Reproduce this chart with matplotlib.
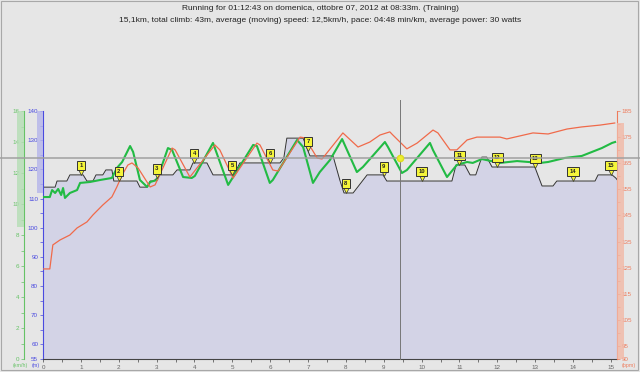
import matplotlib
matplotlib.use("Agg")
import matplotlib.pyplot as plt
import numpy as np
from matplotlib.transforms import blended_transform_factory, offset_copy
from matplotlib.patches import Rectangle
from matplotlib.lines import Line2D

plt.rcParams['font.family'] = ['Liberation Sans', 'DejaVu Sans']

title1 = "Running for 01:12:43 on domenica, ottobre 07, 2012 at 08:33m. (Training)"
title2 = "15,1km, total climb: 43m, average (moving) speed: 12,5km/h, pace: 04:48 min/km, average power: 30 watts"

# altitude (m) vs distance (km)
alt_km = [0.00, 0.32, 0.37, 0.63, 0.71, 1.06, 1.16, 1.32, 1.40, 1.58, 1.66, 1.82, 1.87, 2.48,
          2.56, 2.75, 2.83, 2.93, 3.09, 3.43, 3.54, 3.88, 3.96, 4.33, 4.49, 5.04, 5.20, 6.26,
          6.36, 6.44, 6.87, 7.05, 7.66, 7.84, 7.95, 8.19, 8.56, 8.98, 9.08, 10.80, 10.91, 11.14,
          11.28, 11.43, 11.59, 11.72, 11.86, 12.99, 13.18, 13.47, 13.57, 14.58, 14.66, 15.03,
          15.13, 15.16]
alt_m = [113.9, 113.9, 116.0, 116.0, 118.1, 118.1, 116.0, 116.0, 118.1, 118.1, 119.8, 119.8,
         116.0, 116.0, 113.9, 113.9, 116.0, 116.0, 118.1, 118.1, 119.8, 119.8, 122.2, 122.2,
         118.1, 118.1, 122.2, 122.2, 123.9, 130.7, 130.7, 124.6, 124.6, 116.3, 111.9, 111.9,
         118.1, 118.1, 116.0, 116.0, 121.5, 121.5, 118.1, 118.1, 124.2, 124.2, 120.8, 120.8,
         114.3, 114.3, 116.0, 116.0, 118.1, 118.1, 117.0, 116.5]

# speed (km/h)
spd_km = [0.00, 0.18, 0.24, 0.32, 0.40, 0.48, 0.53, 0.58, 0.71, 0.90, 0.98, 1.24, 1.51, 1.82,
          1.95, 2.09, 2.30, 2.38, 2.56, 2.75, 2.83, 3.01, 3.30, 3.41, 3.70, 3.93, 4.01, 4.49,
          4.89, 5.55, 5.65, 5.99, 6.07, 6.71, 6.87, 7.13, 7.31, 7.58, 7.90, 8.29, 8.45, 9.03,
          9.11, 9.48, 9.61, 10.22, 10.30, 10.67, 10.93, 11.20, 11.35, 11.59, 12.07, 12.52,
          13.13, 13.34, 13.78, 14.23, 14.50, 14.76, 15.03, 15.11]
spd_kmh = [10.45, 10.45, 10.90, 10.71, 10.97, 10.58, 11.03, 10.39, 10.71, 10.90, 11.36, 11.42,
           11.55, 11.68, 12.32, 12.71, 13.74, 13.36, 11.55, 11.10, 11.42, 11.55, 13.61, 13.48,
           11.74, 11.68, 11.81, 13.94, 11.23, 13.81, 13.74, 11.36, 11.55, 14.13, 13.68, 11.36,
           12.06, 12.84, 14.19, 12.06, 12.39, 14.00, 13.68, 12.00, 12.19, 13.94, 13.48, 11.74,
           12.52, 12.71, 12.65, 12.90, 12.65, 12.77, 12.65, 12.71, 12.97, 13.10, 13.36, 13.61,
           13.94, 14.00]

# heart rate (bpm)
hr_km = [0.00, 0.18, 0.26, 0.45, 0.71, 0.90, 1.16, 1.32, 1.58, 1.82, 1.95, 2.09, 2.24, 2.35,
         2.51, 2.83, 2.96, 3.41, 3.49, 3.88, 4.54, 4.67, 5.02, 5.65, 5.73, 6.07, 6.21, 6.79,
         6.92, 7.24, 7.37, 7.92, 8.32, 8.63, 8.90, 9.16, 9.24, 9.61, 9.88, 10.30, 10.43, 10.75,
         10.93, 11.20, 11.46, 12.07, 12.25, 12.94, 13.34, 13.84, 14.23, 14.71, 15.10]
hr_bpm = [124.5, 124.5, 133.7, 135.6, 137.5, 140.2, 142.5, 145.2, 149.0, 152.1, 155.9, 160.5,
          164.3, 165.1, 163.2, 155.9, 156.7, 170.8, 170.1, 159.7, 172.0, 170.1, 159.3, 172.7,
          172.0, 162.4, 162.0, 175.0, 174.7, 167.0, 166.6, 176.6, 171.2, 173.1, 175.8, 177.0,
          175.8, 170.5, 172.7, 177.7, 176.6, 170.1, 170.1, 173.9, 175.0, 175.0, 174.3, 176.6,
          176.2, 178.1, 178.9, 179.6, 180.4]

marker_km = list(range(1, 16))
cursor_km = 9.43
cursor_alt = 123.9

# range bands drawn on the axes
spd_band = (8.5, 16)
alt_band = (112, 140)
hr_band = (90, 180.5)

bg = '#e6e6e6'
c_spd = '#22bb44'
c_spd_ax = '#66c266'
c_alt_ax = '#4a4ae0'
c_hr = '#f06a4a'
c_hr_ax = '#ee7a5a'
c_mark = '#f5f53a'

fig = plt.figure(figsize=(6.4, 3.72), dpi=100, facecolor=bg)
ax = fig.add_axes([43/640, 13/372, 574/640, 248/372])
ax.set_facecolor(bg)

ax.fill_between(alt_km, alt_m, 55, color='#d3d3e6', lw=0)
ax.plot(alt_km, alt_m, color='#333333', lw=0.7)
ax.set_xlim(0, 15.16)
ax.set_ylim(55, 140)

ax_spd = ax.twinx()
ax_hr = ax.twinx()

ax_spd.plot(spd_km, spd_kmh, color=c_spd, lw=1.5, solid_joinstyle='round')
ax_spd.set_ylim(0, 16)
ax_hr.plot(hr_km, hr_bpm, color=c_hr, lw=0.9)
ax_hr.set_ylim(90, 185)

# spines
for s in ['top', 'right']:
    ax.spines[s].set_visible(False)
ax.spines['left'].set_color(c_alt_ax)
ax.spines['bottom'].set_color('#444444')
for a in (ax_spd, ax_hr):
    for s in a.spines.values():
        s.set_visible(False)
ax_spd.yaxis.set_ticks_position('left')
ax_spd.spines['left'].set_visible(True)
ax_spd.spines['left'].set_position(('outward', 13.7))
ax_spd.spines['left'].set_color(c_spd_ax)
ax_hr.spines['right'].set_visible(True)
ax_hr.spines['right'].set_color(c_hr_ax)
for a in (ax, ax_spd, ax_hr):
    for s in a.spines.values():
        s.set_linewidth(0.8)

ax.set_yticks([55] + list(range(60, 141, 10)))
ax.set_yticks(list(range(65, 140, 10)), minor=True)
ax_spd.set_yticks(list(range(0, 17, 2)))
ax_spd.set_yticks(list(range(1, 16, 2)), minor=True)
ax_hr.set_yticks([90] + list(range(95, 186, 10)))
ax_hr.set_yticks(list(range(100, 181, 10)), minor=True)
ax.set_xticks(range(0, 16))
ax.set_xticks(np.arange(0.5, 15.1, 1.0), minor=True)

ax.tick_params(axis='y', which='both', colors=c_alt_ax, labelsize=4.5, length=2.5, width=0.5, pad=1)
ax_spd.tick_params(axis='y', which='both', colors=c_spd_ax, labelsize=4.5, length=2.5, width=0.5, pad=1)
ax_hr.tick_params(axis='y', which='both', colors=c_hr_ax, labelsize=4.5, length=2.5, width=0.5, pad=1)
ax.tick_params(axis='x', which='both', colors='#444444', labelcolor='#666666', labelsize=4.5,
               length=2.5, width=0.5, pad=1.5)

# bands next to the axes
tr_s = blended_transform_factory(fig.transFigure, ax_spd.transData)
fig.add_artist(Rectangle((17/640, spd_band[0]), 7/640, spd_band[1]-spd_band[0], transform=tr_s,
                         color='#b4deb4', alpha=0.8, lw=0, zorder=0.5))
tr_a = blended_transform_factory(fig.transFigure, ax.transData)
fig.add_artist(Rectangle((37/640, alt_band[0]), 6/640, alt_band[1]-alt_band[0], transform=tr_a,
                         color='#b4b4ea', alpha=0.8, lw=0, zorder=0.5))
tr_h = blended_transform_factory(fig.transFigure, ax_hr.transData)
fig.add_artist(Rectangle((617/640, hr_band[0]), 7/640, hr_band[1]-hr_band[0], transform=tr_h,
                         color='#f2b8a6', alpha=0.8, lw=0, zorder=0.5))

# unit labels
fig.text(20/640, 1-366/372, '(km/h)', fontsize=3.8, color=c_spd_ax, ha='center', va='center')
fig.text(40/640, 1-366/372, '(m)', fontsize=3.8, color=c_alt_ax, ha='right', va='center')
fig.text(629/640, 1-365/372, '(bpm)', fontsize=3.8, color=c_hr_ax, ha='center', va='center')

# km markers on the altitude profile
for k in marker_km:
    y = np.interp(k, alt_km, alt_m)
    tri = offset_copy(ax.transData, fig=fig, y=2.2, units='points')
    ax_hr.plot([k], [y], marker='v', ms=4.4, color=c_mark, mec='#333333', mew=0.5,
               transform=tri, zorder=9, clip_on=False)
    ax_hr.annotate(str(k), xy=(k, y), xycoords=ax.transData, xytext=(0, 6.8),
                   textcoords='offset points', ha='center', va='center', fontsize=4.2,
                   fontweight='bold', color='#222222', zorder=10,
                   bbox=dict(boxstyle='square,pad=0.4', fc=c_mark, ec='#333333', lw=0.7))
ax_hr.set_ylim(90, 185)
ax_hr.set_xlim(0, 15.16)

# crosshair
fig.add_artist(Line2D([0, 1], [cursor_alt, cursor_alt], transform=tr_a, color='#a0a0a0', lw=1.1, zorder=5))
fig.add_artist(Line2D([cursor_km, cursor_km], [55, 143.8], transform=ax.transData, color='#777777', lw=0.7, zorder=5))
fig.add_artist(Line2D([cursor_km], [cursor_alt], transform=ax.transData, marker='o', ms=4.5,
                      color='#eeee30', mec='#dddd20', lw=0, zorder=6))

# titles
fig.text(0.5, 1-9/372, title1, ha='center', va='center', fontsize=6, color='#222222')
fig.text(0.5, 1-20/372, title2, ha='center', va='center', fontsize=6, color='#222222')

fig.add_artist(Rectangle((0.5/640, 2/372), 637/640, 369/372, transform=fig.transFigure,
                         fill=False, ec='#a8a8a8', lw=0.8))

fig.savefig("out.png", dpi=100, facecolor=bg)
